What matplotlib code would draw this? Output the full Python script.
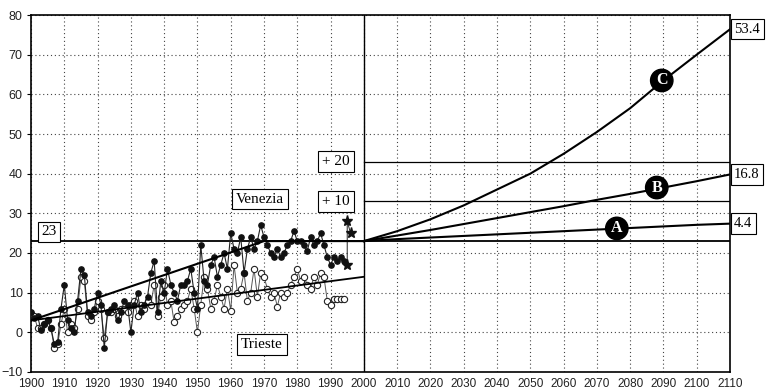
import matplotlib.pyplot as plt
import numpy as np

# yearly values
years = np.arange(1900, 1995)

venezia = [5, 3.5, 4, 0.5, 2, 3, 1, -3, -2.5, 6,
           12, 3, 1, 0, 8, 16, 14.5, 5, 4, 6,
           10, 7, -4, 5, 6, 7, 3, 5, 8, 7,
           0, 7, 10, 5, 7, 9, 15, 18, 5, 13,
           10, 16, 12, 10, 8, 12, 12, 13, 16, 10,
           6, 22, 13, 12, 17, 19, 14, 17, 20, 16,
           25, 21, 20, 24, 15, 21, 24, 21, 23, 27,
           24, 22, 20, 19, 21, 19, 20, 22, 23, 25.5,
           23, 23, 22, 20.5, 24, 22, 23, 25, 22, 19,
           17, 19, 18, 19, 18]

trieste = [4.5, 4, 1, 1, 2, 3, 1, -4, -3, 2,
           6, 0, 2, 1, 6, 14, 13, 4, 3, 5,
           8, 6, -1.5, 5, 5, 6, 4, 6, 6, 5,
           7, 8, 4, 7, 6, 8, 7, 12, 4, 9,
           12, 7, 8, 2.5, 4, 6, 7, 8, 11, 6,
           0, 7, 14, 11, 6, 8, 12, 9, 6, 11,
           5.5, 17, 10, 11, 15, 8, 10, 16, 9, 15,
           14, 11, 9, 10, 6.5, 10, 9, 10, 12, 14,
           16, 13, 14, 12, 11, 14, 12, 15, 14, 8,
           7, 8.5, 8.5, 8.5, 8.5]

star_years = [1995, 1995, 1996]
star_vals = [17, 28, 25]

# trend lines
ven_trend_x = [1900, 1970, 2000]
ven_trend_y = [3, 23, 23]
tri_trend_x = [1900, 2000]
tri_trend_y = [3, 14]

# projections (rise above 23 cm reference level)
base = 23
proj_years = [2000, 2010, 2020, 2030, 2040, 2050, 2060, 2070, 2080, 2090, 2100, 2110]
proj_a = [0, 0.5, 0.9, 1.3, 1.7, 2.1, 2.5, 2.9, 3.3, 3.7, 4.1, 4.4]
proj_b = [0, 1.4, 2.8, 4.3, 5.8, 7.3, 8.8, 10.4, 11.9, 13.5, 15.1, 16.8]
proj_c = [0, 2.5, 5.5, 9, 13, 17, 22, 27.5, 33.5, 40.5, 47, 53.4]
end_labels = ['4.4', '16.8', '53.4']

fig = plt.figure(figsize=(7.68, 3.9), dpi=100)
ax = fig.add_axes([0.0404, 0.0462, 0.9101, 0.9153])

ax.set_xlim(1900, 2110)
ax.set_ylim(-10, 80)
ax.set_xticks(np.arange(1900, 2111, 10))
ax.set_yticks(np.arange(-10, 81, 10))
ax.grid(True, color='#444444', linestyle=(0, (1, 2.5)), linewidth=0.8)
ax.tick_params(axis='x', length=0, pad=4, labelsize=8.5)
ax.tick_params(axis='y', length=3, direction='out', pad=3, labelsize=9)
for lab in ax.get_xticklabels() + ax.get_yticklabels():
    lab.set_fontfamily('Liberation Sans')
    lab.set_color('#222222')
for sp in ax.spines.values():
    sp.set_linewidth(1.2)

# reference lines
ax.axvline(2000, color='black', lw=1.0)
ax.plot([1900, 2110], [base, base], color='black', lw=1.3)
ax.plot([2000, 2110], [base + 10, base + 10], color='black', lw=0.9)
ax.plot([2000, 2110], [base + 20, base + 20], color='black', lw=0.9)

# observed series
ax.plot(years, trieste, color='#555555', lw=0.7, marker='o', ms=4.5,
        mfc='white', mec='#222222', mew=0.8, zorder=3)
ax.plot(years, venezia, color='#222222', lw=0.8, marker='o', ms=3.8,
        mfc='#111111', mec='#111111', zorder=4)
ax.plot(star_years, star_vals, color='#222222', lw=0.7, marker='*', ms=8,
        mfc='#111111', mec='#111111', zorder=4)

ax.plot(ven_trend_x, ven_trend_y, color='black', lw=1.5, zorder=5)
ax.plot(tri_trend_x, tri_trend_y, color='black', lw=1.3, zorder=5)

# projection curves
for vals, lbl in zip([proj_a, proj_b, proj_c], end_labels):
    ax.plot(proj_years, [base + v for v in vals], color='black', lw=1.5, zorder=5)
    ax.annotate(lbl, xy=(2110, base + vals[-1]), xytext=(3, 0),
                textcoords='offset points', ha='left', va='center',
                family='Liberation Serif', fontsize=10.5, annotation_clip=False,
                bbox=dict(boxstyle='square,pad=0.25', fc='white', ec='black', lw=0.8))

circ = dict(boxstyle='circle,pad=0.2', fc='black', ec='black')
for xx, yy, s in [(2076, 26.2, 'A'), (2088, 36.5, 'B'), (2089.5, 63.5, 'C')]:
    ax.text(xx, yy, s, ha='center', va='center', color='white', fontsize=11.5,
            weight='bold', family='Liberation Serif', bbox=circ, zorder=6)

box = dict(boxstyle='square,pad=0.25', fc='white', ec='black', lw=0.8)
for xx, yy, s in [(1905.4, 25.3, '23'), (1968.8, 33.6, 'Venezia'),
                  (1969.4, -3, 'Trieste'), (1991.6, 43, '+ 20'),
                  (1991.6, 33, '+ 10')]:
    ax.text(xx, yy, s, ha='center', va='center', fontsize=11,
            family='Liberation Serif', bbox=box, zorder=6)

fig.savefig('out.png', dpi=100)
